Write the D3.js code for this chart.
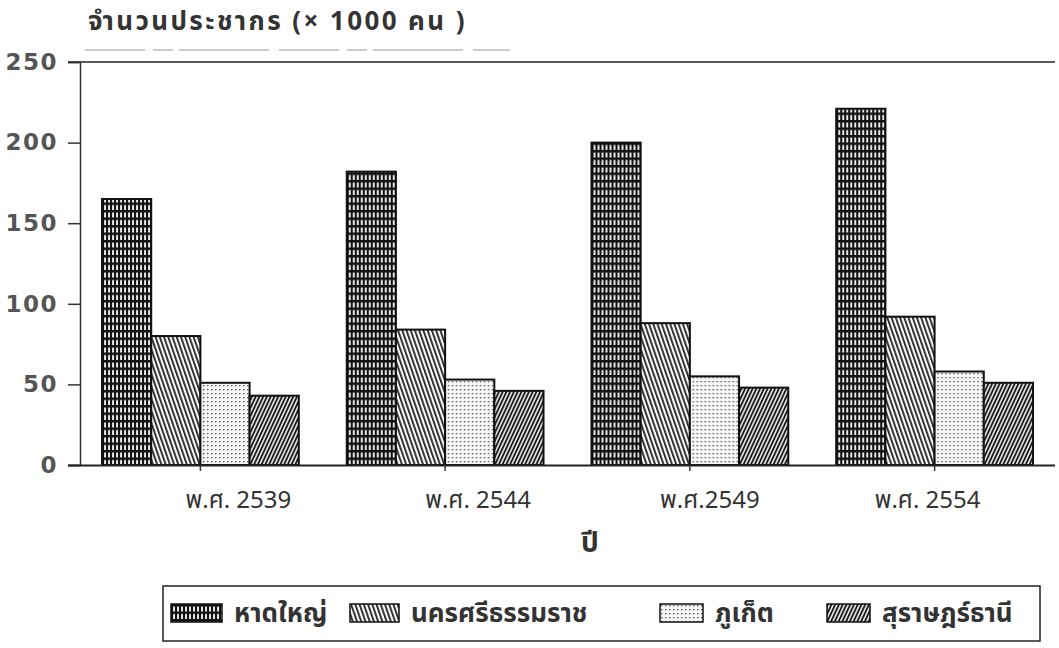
<!DOCTYPE html>
<html>
<head>
<meta charset="utf-8">
<script src="https://cdn.jsdelivr.net/npm/d3@7"></script>
<style>
  html, body { margin: 0; padding: 0; background: #fff; }
  svg { display: block; }
</style>
</head>
<body>
<svg id="chart" width="1059" height="648"></svg>
<script>
// ---------- data ----------
const years = ["พ.ศ. 2539", "พ.ศ. 2544", "พ.ศ.2549", "พ.ศ. 2554"];
const seriesNames = ["หาดใหญ่", "นครศรีธรรมราช", "ภูเก็ต", "สุราษฎร์ธานี"];
const hatyai = [165, 182, 200, 221];
const nakhon = [80, 84, 88, 92];
const phuket = [51, 53, 55, 58];
const surat = [43, 46, 48, 51];
const yTicks = [0, 50, 100, 150, 200, 250];
const titleText = "จำนวนประชากร  (× 1000 คน )";
const xTitleText = "ปี";

// ---------- styles / layout ----------
const seriesValues = [hatyai, nakhon, phuket, surat];
const patternIds = ["p-grid", "p-back", "p-dots", "p-fwd"];
const thaiFont = "'Noto Sans Thai', 'Noto Sans Thai UI', Loma, Garuda, 'Tlwg Typo', 'DejaVu Sans', sans-serif";
const labelNudge = [38, 33, 20, -7];
const legendX = [171, 350, 660, 827];
const legendW = [51, 49, 43, 43];

const svg = d3.select("#chart");
const defs = svg.append("defs");

// grid pattern (หาดใหญ่)
const pg = defs.append("pattern").attr("id", "p-grid").attr("patternUnits", "userSpaceOnUse")
  .attr("width", 4).attr("height", 7.5);
pg.append("rect").attr("width", 4).attr("height", 7.5).attr("fill", "#f0f0f0");
pg.append("rect").attr("x", 0).attr("y", 0).attr("width", 2.1).attr("height", 7.5).attr("fill", "#111");
pg.append("rect").attr("x", 0).attr("y", 0).attr("width", 4).attr("height", 2.5).attr("fill", "#111");

// back-slash lines (นครศรีธรรมราช)
const pb = defs.append("pattern").attr("id", "p-back").attr("patternUnits", "userSpaceOnUse")
  .attr("width", 4).attr("height", 10).attr("patternTransform", "rotate(-19)");
pb.append("rect").attr("width", 4).attr("height", 10).attr("fill", "#fafafa");
pb.append("rect").attr("x", 0).attr("y", 0).attr("width", 1.8).attr("height", 10).attr("fill", "#222");

// dots (ภูเก็ต)
const pd = defs.append("pattern").attr("id", "p-dots").attr("patternUnits", "userSpaceOnUse")
  .attr("width", 4).attr("height", 4);
pd.append("rect").attr("width", 4).attr("height", 4).attr("fill", "#f8f8f8");
pd.append("rect").attr("x", 1).attr("y", 1).attr("width", 1.5).attr("height", 1.3).attr("fill", "#555");

// forward-slash lines (สุราษฎร์ธานี)
const pf = defs.append("pattern").attr("id", "p-fwd").attr("patternUnits", "userSpaceOnUse")
  .attr("width", 3.4).attr("height", 10).attr("patternTransform", "rotate(25)");
pf.append("rect").attr("width", 3.4).attr("height", 10).attr("fill", "#e8e8e8");
pf.append("rect").attr("x", 0).attr("y", 0).attr("width", 1.8).attr("height", 10).attr("fill", "#1a1a1a");

// ---------- scales ----------
const x0 = d3.scaleBand().domain(years).range([80, 1055]).paddingInner(0.196).paddingOuter(0.09);
const x1 = d3.scaleBand().domain(seriesNames).range([0, x0.bandwidth()]).padding(0);
const y = d3.scaleLinear().domain([0, 250]).range([465, 62]);

// ---------- top frame line ----------
svg.append("line").attr("x1", 68).attr("x2", 1055).attr("y1", y(250)).attr("y2", y(250))
  .attr("stroke", "#222").attr("stroke-width", 1.5);
// faint scan line below title
svg.append("line").attr("x1", 85).attr("x2", 510).attr("y1", 50).attr("y2", 50)
  .attr("stroke", "#999").attr("stroke-width", 1).attr("stroke-dasharray", "60 8 20 6 90 10");

// ---------- y axis ----------
const yAxis = d3.axisLeft(y).tickValues(yTicks).tickSize(12).tickPadding(10);
const gy = svg.append("g").attr("transform", "translate(80,0)").call(yAxis);
gy.select(".domain").attr("stroke", "#333").attr("stroke-width", 1.5);
gy.selectAll(".tick line").attr("stroke", "#333").attr("stroke-width", 1.5);
gy.selectAll(".tick text")
  .attr("font-family", "'DejaVu Sans', sans-serif").attr("font-weight", "bold")
  .attr("font-size", 23).attr("letter-spacing", 1.5).attr("fill", "#555");

// ---------- bars ----------
const groups = svg.append("g").selectAll("g").data(years).join("g")
  .attr("transform", d => `translate(${x0(d)},0)`);
groups.selectAll("rect")
  .data((d, i) => seriesNames.map((s, k) => ({ s, k, v: seriesValues[k][i] })))
  .join("rect")
  .attr("x", d => x1(d.s))
  .attr("width", x1.bandwidth())
  .attr("y", d => y(d.v))
  .attr("height", d => y(0) - y(d.v))
  .attr("fill", d => `url(#${patternIds[d.k]})`)
  .attr("stroke", "#111").attr("stroke-width", 2);

// ---------- x axis ----------
const xAxis = d3.axisBottom(x0).tickSize(6).tickPadding(20);
const gx = svg.append("g").attr("transform", `translate(0,${y(0)})`).call(xAxis);
gx.select(".domain").attr("d", `M68,0.5H1055`).attr("stroke", "#222").attr("stroke-width", 2);
gx.selectAll(".tick line").attr("stroke", "#333").attr("stroke-width", 1.5);
gx.selectAll(".tick text")
  .attr("dx", (d, i) => labelNudge[i])
  .attr("font-family", thaiFont)
  .attr("font-size", 24).attr("fill", "#333");

// ---------- titles ----------
svg.append("text").attr("x", 88).attr("y", 30).text(titleText)
  .attr("font-family", thaiFont).attr("font-weight", "bold")
  .attr("font-size", 26).attr("letter-spacing", 2.4).attr("fill", "#333");
svg.append("text").attr("x", 590).attr("y", 552).attr("text-anchor", "middle").text(xTitleText)
  .attr("font-family", thaiFont).attr("font-weight", "bold")
  .attr("font-size", 28).attr("fill", "#333");

// ---------- legend ----------
svg.append("rect").attr("x", 163).attr("y", 586).attr("width", 877).attr("height", 55)
  .attr("fill", "none").attr("stroke", "#222").attr("stroke-width", 1.5);
const lg = svg.append("g").selectAll("g").data(seriesNames).join("g")
  .attr("transform", (d, i) => `translate(${legendX[i]},604)`);
lg.append("rect").attr("width", (d, i) => legendW[i]).attr("height", 18)
  .attr("fill", (d, i) => `url(#${patternIds[i]})`)
  .attr("stroke", "#111").attr("stroke-width", 1.5);
lg.append("text").attr("x", (d, i) => legendW[i] + 12).attr("y", 18).text(d => d)
  .attr("font-family", thaiFont).attr("font-weight", "bold")
  .attr("font-size", 26).attr("fill", "#333");
</script>
</body>
</html>
